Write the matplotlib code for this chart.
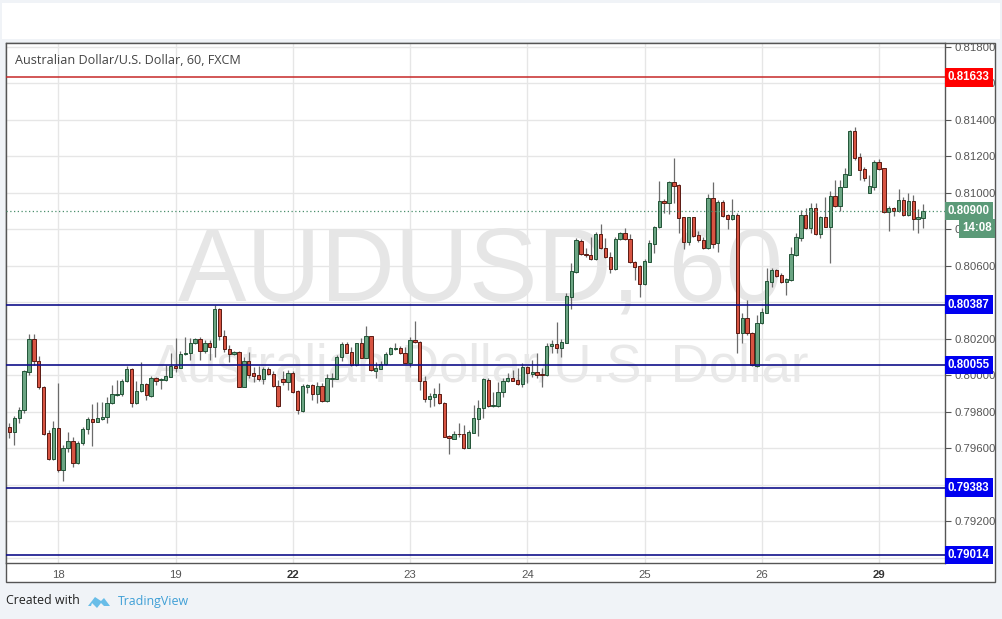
import matplotlib
matplotlib.use('Agg')
import numpy as np
import matplotlib.pyplot as plt
from matplotlib.patches import Rectangle, Polygon

# hourly AUD/USD candles (open, high, low, close)
opens = [0.79718, 0.79691, 0.79767, 0.79811, 0.80019, 0.80200, 0.80080, 0.79937, 0.79685, 0.79543,
         0.79713, 0.79482, 0.79603, 0.79641, 0.79521, 0.79630, 0.79707, 0.79762, 0.79745, 0.79762,
         0.79773, 0.79850, 0.79893, 0.79899, 0.79970, 0.80036, 0.79850, 0.79915, 0.79954, 0.79888,
         0.79987, 0.79976, 0.79976, 0.79992, 0.80052, 0.80041, 0.80118, 0.80124, 0.80178, 0.80200,
         0.80135, 0.80178, 0.80157, 0.80365, 0.80217, 0.80146, 0.80118, 0.80129, 0.79937, 0.80080,
         0.80014, 0.80003, 0.79981, 0.80036, 0.80008, 0.79943, 0.79981, 0.79965, 0.80014, 0.79915,
         0.79805, 0.79937, 0.79948, 0.79899, 0.79943, 0.79861, 0.79981, 0.79981, 0.80102, 0.80173,
         0.80129, 0.80058, 0.80178, 0.80096, 0.80217, 0.80025, 0.80036, 0.80063, 0.80118, 0.80146,
         0.80151, 0.80124, 0.80069, 0.80195, 0.80184, 0.79970, 0.79871, 0.79882, 0.79899, 0.79850,
         0.79669, 0.79652, 0.79680, 0.79680, 0.79603, 0.79685, 0.79762, 0.79822, 0.79976, 0.79833,
         0.79833, 0.79910, 0.79970, 0.79987, 0.79976, 0.79954, 0.80047, 0.80008, 0.80019, 0.80008,
         0.80001, 0.80162, 0.80173, 0.80151, 0.80178, 0.80430, 0.80567, 0.80737, 0.80666, 0.80661,
         0.80639, 0.80776, 0.80699, 0.80650, 0.80584, 0.80748, 0.80781, 0.80748, 0.80622, 0.80600,
         0.80502, 0.80622, 0.80721, 0.80814, 0.80957, 0.80946, 0.81061, 0.81044, 0.80869, 0.80732,
         0.80869, 0.80770, 0.80743, 0.80699, 0.80973, 0.80726, 0.80951, 0.80880, 0.80858, 0.80880,
         0.80233, 0.80315, 0.80233, 0.80052, 0.80288, 0.80343, 0.80513, 0.80578, 0.80551, 0.80513,
         0.80524, 0.80661, 0.80754, 0.80880, 0.80809, 0.80918, 0.80776, 0.80869, 0.80814, 0.80984,
         0.80929, 0.81033, 0.81099, 0.81340, 0.81198, 0.81132, 0.81000, 0.81033, 0.81170, 0.81137,
         0.80896, 0.80918, 0.80902, 0.80962, 0.80880, 0.80957, 0.80858, 0.80863]
highs = [0.79740, 0.79778, 0.79828, 0.80030, 0.80228, 0.80228, 0.80107, 0.79943, 0.79702, 0.79751,
         0.79959, 0.79619, 0.79691, 0.79663, 0.79641, 0.79718, 0.79773, 0.79844, 0.79855, 0.79855,
         0.79882, 0.79948, 0.79976, 0.79981, 0.80052, 0.80040, 0.79970, 0.80074, 0.79959, 0.79998,
         0.79992, 0.79987, 0.80058, 0.80124, 0.80206, 0.80135, 0.80211, 0.80206, 0.80206, 0.80211,
         0.80195, 0.80195, 0.80387, 0.80370, 0.80250, 0.80167, 0.80135, 0.80135, 0.80102, 0.80129,
         0.80047, 0.80052, 0.80047, 0.80047, 0.80025, 0.79976, 0.80025, 0.80030, 0.80025, 0.79921,
         0.79954, 0.79954, 0.79954, 0.79965, 0.79959, 0.80008, 0.80014, 0.80113, 0.80184, 0.80184,
         0.80157, 0.80178, 0.80206, 0.80272, 0.80217, 0.80074, 0.80080, 0.80129, 0.80157, 0.80178,
         0.80162, 0.80157, 0.80211, 0.80299, 0.80189, 0.79998, 0.79904, 0.79932, 0.79959, 0.79852,
         0.79674, 0.79696, 0.79740, 0.79729, 0.79702, 0.79839, 0.79866, 0.79987, 0.79987, 0.79910,
         0.79965, 0.79987, 0.80014, 0.80030, 0.80041, 0.80069, 0.80052, 0.80085, 0.80124, 0.80041,
         0.80178, 0.80195, 0.80293, 0.80200, 0.80452, 0.80617, 0.80754, 0.80748, 0.80699, 0.80759,
         0.80787, 0.80831, 0.80754, 0.80677, 0.80759, 0.80787, 0.80809, 0.80776, 0.80628, 0.80606,
         0.80639, 0.80743, 0.80820, 0.81066, 0.80968, 0.81066, 0.81192, 0.81050, 0.80869, 0.80869,
         0.80869, 0.80792, 0.80759, 0.80995, 0.81061, 0.80962, 0.80962, 0.80885, 0.80968, 0.80891,
         0.80343, 0.80414, 0.80238, 0.80332, 0.80370, 0.80589, 0.80589, 0.80584, 0.80562, 0.80535,
         0.80704, 0.80781, 0.80907, 0.80918, 0.80946, 0.80946, 0.80874, 0.80978, 0.81011, 0.81072,
         0.81072, 0.81137, 0.81346, 0.81362, 0.81220, 0.81143, 0.81099, 0.81181, 0.81187, 0.81137,
         0.80929, 0.80924, 0.81022, 0.80978, 0.81000, 0.80989, 0.80913, 0.80940]
lows = [0.79658, 0.79619, 0.79740, 0.79795, 0.80003, 0.80058, 0.79926, 0.79674, 0.79537, 0.79537,
        0.79471, 0.79417, 0.79581, 0.79499, 0.79515, 0.79619, 0.79680, 0.79614, 0.79745, 0.79756,
        0.79740, 0.79844, 0.79888, 0.79888, 0.79965, 0.79828, 0.79844, 0.79910, 0.79866, 0.79882,
        0.79948, 0.79926, 0.79970, 0.79992, 0.80019, 0.80041, 0.80113, 0.80085, 0.80173, 0.80085,
        0.80124, 0.80085, 0.80102, 0.80195, 0.80129, 0.80074, 0.80113, 0.79934, 0.79934, 0.79987,
        0.79965, 0.79970, 0.79954, 0.80003, 0.79937, 0.79828, 0.79948, 0.79921, 0.79904, 0.79789,
        0.79800, 0.79904, 0.79866, 0.79850, 0.79855, 0.79855, 0.79937, 0.79981, 0.80080, 0.80124,
        0.80052, 0.80052, 0.80096, 0.80096, 0.80025, 0.79987, 0.80036, 0.80058, 0.80113, 0.80140,
        0.80118, 0.80069, 0.80047, 0.80178, 0.79921, 0.79855, 0.79828, 0.79833, 0.79844, 0.79663,
        0.79570, 0.79652, 0.79663, 0.79597, 0.79603, 0.79685, 0.79669, 0.79767, 0.79828, 0.79828,
        0.79828, 0.79882, 0.79965, 0.79970, 0.79948, 0.79937, 0.79959, 0.79992, 0.79987, 0.79937,
        0.79998, 0.80124, 0.80124, 0.80102, 0.80178, 0.80365, 0.80562, 0.80661, 0.80650, 0.80633,
        0.80633, 0.80694, 0.80644, 0.80562, 0.80578, 0.80743, 0.80743, 0.80617, 0.80524, 0.80430,
        0.80496, 0.80622, 0.80672, 0.80809, 0.80891, 0.80885, 0.80946, 0.80781, 0.80694, 0.80715,
        0.80759, 0.80732, 0.80694, 0.80694, 0.80699, 0.80677, 0.80869, 0.80803, 0.80852, 0.80124,
        0.80178, 0.80222, 0.80052, 0.80047, 0.80282, 0.80343, 0.80485, 0.80540, 0.80507, 0.80441,
        0.80518, 0.80655, 0.80737, 0.80803, 0.80781, 0.80770, 0.80754, 0.80814, 0.80617, 0.80924,
        0.80902, 0.81033, 0.81099, 0.81181, 0.81072, 0.81066, 0.81000, 0.81017, 0.81126, 0.80891,
        0.80792, 0.80874, 0.80896, 0.80874, 0.80874, 0.80798, 0.80781, 0.80809]
closes = [0.79691, 0.79767, 0.79811, 0.80025, 0.80200, 0.80080, 0.79937, 0.79680, 0.79543, 0.79713,
          0.79482, 0.79603, 0.79641, 0.79521, 0.79630, 0.79707, 0.79762, 0.79745, 0.79767, 0.79773,
          0.79850, 0.79899, 0.79899, 0.79970, 0.80036, 0.79850, 0.79915, 0.79954, 0.79893, 0.79987,
          0.79970, 0.79981, 0.79998, 0.80052, 0.80041, 0.80118, 0.80124, 0.80178, 0.80200, 0.80135,
          0.80178, 0.80157, 0.80365, 0.80217, 0.80146, 0.80118, 0.80129, 0.79937, 0.80080, 0.80003,
          0.79998, 0.79981, 0.80036, 0.80008, 0.79943, 0.79833, 0.79965, 0.80014, 0.79910, 0.79811,
          0.79943, 0.79948, 0.79899, 0.79943, 0.79861, 0.79987, 0.79987, 0.80102, 0.80173, 0.80124,
          0.80058, 0.80178, 0.80096, 0.80217, 0.80030, 0.80041, 0.80063, 0.80118, 0.80151, 0.80151,
          0.80124, 0.80069, 0.80195, 0.80184, 0.79970, 0.79871, 0.79888, 0.79899, 0.79850, 0.79663,
          0.79658, 0.79680, 0.79676, 0.79603, 0.79691, 0.79767, 0.79822, 0.79981, 0.79833, 0.79839,
          0.79910, 0.79970, 0.79987, 0.79970, 0.79954, 0.80047, 0.80014, 0.80019, 0.80003, 0.80001,
          0.80162, 0.80173, 0.80151, 0.80184, 0.80436, 0.80573, 0.80743, 0.80666, 0.80660, 0.80639,
          0.80776, 0.80699, 0.80650, 0.80584, 0.80748, 0.80781, 0.80748, 0.80622, 0.80595, 0.80502,
          0.80628, 0.80726, 0.80814, 0.80957, 0.80946, 0.81061, 0.81039, 0.80863, 0.80732, 0.80869,
          0.80765, 0.80743, 0.80699, 0.80973, 0.80721, 0.80951, 0.80874, 0.80858, 0.80880, 0.80233,
          0.80315, 0.80233, 0.80058, 0.80288, 0.80348, 0.80518, 0.80578, 0.80546, 0.80513, 0.80529,
          0.80666, 0.80759, 0.80880, 0.80809, 0.80918, 0.80776, 0.80869, 0.80814, 0.80984, 0.80929,
          0.81033, 0.81103, 0.81340, 0.81192, 0.81126, 0.81083, 0.81039, 0.81170, 0.81132, 0.80896,
          0.80918, 0.80902, 0.80962, 0.80880, 0.80957, 0.80858, 0.80869, 0.80902]

# day separators (candle index) and their labels
day_pos = [10, 34, 58, 82, 106, 130, 154, 178]
day_labels = ['18', '19', '22', '23', '24', '25', '26', '29']
bold_days = ['22', '29']

# horizontal levels drawn on the chart
resistance = [0.81633]
support = [0.80387, 0.80055, 0.79383, 0.79014]
last_price = 0.80900
countdown = '14:08'

W, H = 1002, 619
fig = plt.figure(figsize=(W / 100, H / 100), dpi=100)
fig.patch.set_facecolor('#f0f3f7')

# white header strip and the chart frame
fig.add_artist(Rectangle((2 / W, 1 - 39 / H), 998 / W, 36 / H, transform=fig.transFigure,
                         facecolor='white', edgecolor='none', zorder=0))
fig.add_artist(Rectangle((6 / W, 1 - 582 / H), 989 / W, 539 / H, transform=fig.transFigure,
                         facecolor='white', edgecolor='#555555', linewidth=1, zorder=0))

ax = fig.add_axes([6 / W, 1 - 563 / H, 939 / W, 520 / H])
ax.set_facecolor('white')

x = np.arange(len(opens))
o = np.array(opens)
c = np.array(closes)
up = c >= o
body_lo = np.minimum(o, c)
body_h = np.maximum(np.abs(c - o), 0.00002)

ax.vlines(x, lows, highs, color='#6b6b6b', linewidth=0.9, zorder=3)
ax.bar(x[up], body_h[up], bottom=body_lo[up], width=0.68, color='#6ba583',
       edgecolor='#225437', linewidth=0.7, zorder=4)
ax.bar(x[~up], body_h[~up], bottom=body_lo[~up], width=0.68, color='#d75442',
       edgecolor='#5b1a13', linewidth=0.7, zorder=4)

# watermark
ax.text(0.505, 0.555, 'AUDUSD, 60', transform=ax.transAxes, ha='center', va='center',
        fontsize=74, color='#e6e6e6', family='Liberation Sans', zorder=1)
ax.text(0.505, 0.375, 'Australian Dollar/U.S. Dollar', transform=ax.transAxes, ha='center',
        va='center', fontsize=38, color='#e9e9e9', family='Liberation Sans', zorder=1)

for lvl in resistance:
    ax.axhline(lvl, color='#c62828', linewidth=1.1, zorder=5)
for lvl in support:
    ax.axhline(lvl, color='#10108a', linewidth=1.2, zorder=5)
ax.axhline(last_price, color='#4a8f6c', linewidth=0.9, linestyle=(0, (1, 2)), zorder=5)

ax.set_xlim(-0.7, 191.5)
ax.set_ylim(0.78970, 0.81822)

# scale labels fully hidden behind a level tag are left blank
covered = [0.804, 0.794, 0.790]
yt = np.arange(0.790, 0.8181, 0.002)
ax.set_yticks(yt)
ax.set_yticklabels(['' if any(abs(v - cv) < 1e-6 for cv in covered) else '%.5f' % v for v in yt])
ax.yaxis.tick_right()
ax.tick_params(axis='y', length=4, width=0.8, color='#555555', labelcolor='#555555',
               labelsize=8.2, pad=3)
ax.set_xticks(day_pos)
ax.set_xticklabels(day_labels)
ax.tick_params(axis='x', length=0, labelcolor='#555555', labelsize=8.2, pad=5)
for lab in ax.get_xticklabels():
    if lab.get_text() in bold_days:
        lab.set_fontweight('bold')
        lab.set_color('#333333')
for lab in ax.get_xticklabels() + ax.get_yticklabels():
    lab.set_family('Liberation Sans')

ax.grid(True, color='#e6e6e6', linewidth=1)
ax.set_axisbelow(True)
for s in ax.spines.values():
    s.set_color('#555555')
    s.set_linewidth(1)

# price labels on the right scale
ytr = ax.get_yaxis_transform()
def price_tag(val, text, fc, xpos=1.003):
    ax.text(xpos, val, text, transform=ytr, ha='left', va='center', color='white',
            fontsize=8.3, fontweight='bold', family='Liberation Sans', clip_on=False, zorder=10,
            bbox=dict(boxstyle='square,pad=0.28', facecolor=fc, edgecolor='none'))

for lvl in resistance:
    price_tag(lvl, '%.5f' % lvl, '#ff0000')
for lvl in support:
    price_tag(lvl, '%.5f' % lvl, '#0000f0')
price_tag(last_price, '%.5f' % last_price, '#5b9a78')
price_tag(0.80805, countdown, '#5b9a78', xpos=1.018)

fig.text(15 / W, 1 - 60 / H, 'Australian Dollar/U.S. Dollar, 60, FXCM', ha='left', va='center',
         fontsize=9.1, color='#444444', family='Open Sans')

# footer
fig.text(6 / W, 1 - 601 / H, 'Created with', ha='left', va='center', fontsize=8.9,
         color='#222222', family='Open Sans')
logo = [(88, 606), (95, 597), (101, 601), (104, 598), (110, 606), (104, 606), (101, 603),
        (97, 608), (92, 603), (91, 606)]
fig.add_artist(Polygon([(px / W, 1 - py / H) for px, py in logo], closed=True,
                       transform=fig.transFigure, facecolor='#68bde8', edgecolor='none'))
fig.text(118 / W, 1 - 601 / H, 'TradingView', ha='left', va='center', fontsize=8.9,
         color='#3f9fd6', family='Open Sans')

fig.savefig('out.png', dpi=100, facecolor=fig.get_facecolor())
